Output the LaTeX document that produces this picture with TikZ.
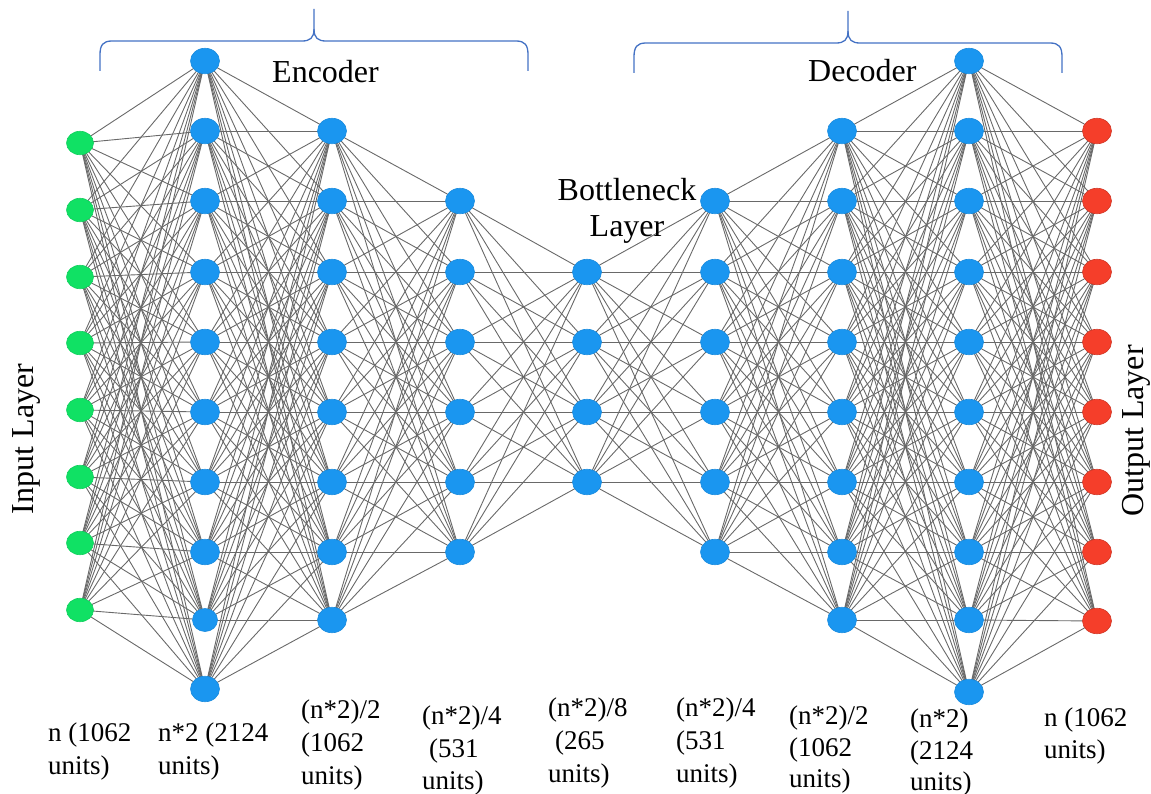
\documentclass[tikz,border=0pt]{standalone}
\usepackage{fontspec}
\setmainfont{Liberation Serif}
\usetikzlibrary{shapes.geometric}
\pgfdeclarelayer{background}
\pgfsetlayers{background,main}
\definecolor{nblue}{RGB}{26,150,240}
\definecolor{ngreen}{RGB}{16,225,100}
\definecolor{nred}{RGB}{245,62,42}
\definecolor{edgegray}{RGB}{105,105,105}
\definecolor{braceblue}{RGB}{68,114,196}
\begin{document}
\begin{tikzpicture}[x=1pt,y=-1pt,
  neuron/.style={ellipse, inner sep=0pt, minimum width=29pt, minimum height=25.5pt, fill=nblue, draw=nblue!92!black, line width=0.6pt},
  smallneuron/.style={neuron, minimum width=25pt, minimum height=23pt},
  gneuron/.style={neuron, minimum width=27pt, minimum height=23.5pt, fill=ngreen, draw=ngreen!92!black},
  rneuron/.style={neuron, fill=nred, draw=nred!85!black},
  link/.style={draw=edgegray, line width=0.9pt},
  bracepen/.style={draw=braceblue, line width=1.3pt},
  titletext/.style={font=\fontsize{32}{36}\selectfont, inner sep=0pt},
  lab/.style={font=\fontsize{27}{32}\selectfont, inner sep=0pt, anchor=base west}]
\useasboundingbox (0,0) rectangle (1151,794);

% neurons
\foreach \y [count=\i] in {143,210,277,343,410,477,543,610} \node[gneuron] (A\i) at (80,\y) {};
\foreach \y [count=\i] in {61,131,201,272,342,412,482,552} \node[neuron] (B\i) at (205,\y) {};
\node[smallneuron] (B9) at (205,620) {};
\node[neuron] (B10) at (205,689) {};
\foreach \y [count=\i] in {131,201,272,342,412,482,552,620} \node[neuron] (C\i) at (332,\y) {};
\foreach \y [count=\i] in {201,272,342,412,482,552} \node[neuron] (D\i) at (460,\y) {};
\foreach \y [count=\i] in {272,342,412,482} \node[neuron] (E\i) at (587,\y) {};
\foreach \y [count=\i] in {201,272,342,412,482,552} \node[neuron] (F\i) at (715,\y) {};
\foreach \y [count=\i] in {131,201,272,342,412,482,552,620} \node[neuron] (G\i) at (842,\y) {};
\foreach \y [count=\i] in {61,131,201,272,342,412,482,552,620,692} \node[neuron] (H\i) at (969,\y) {};
\foreach \y [count=\i] in {131,201,272,342,412,482,552,621} \node[rneuron] (K\i) at (1097,\y) {};

% connections
\begin{pgfonlayer}{background}
\foreach \P/\np/\Q/\nq in {A/8/B/10, B/10/C/8, C/8/D/6, D/6/E/4, E/4/F/6, F/6/G/8, G/8/H/10, H/10/K/8} {
  \foreach \i in {1,...,\np} {
    \foreach \j in {1,...,\nq} {
      \draw[link] (\P\i.center) -- (\Q\j.center);
    }
  }
}
\end{pgfonlayer}

% braces
\draw[bracepen] (100,71) -- (100,55) .. controls (100,45) and (103,41) .. (112,41) -- (302,41)
  .. controls (310,41) and (314,38) .. (314,29) -- (314,9);
\draw[bracepen] (314,29) .. controls (314,38) and (318,41) .. (326,41) -- (516,41)
  .. controls (525,41) and (528,45) .. (528,55) -- (528,71);
\draw[bracepen] (634,73) -- (634,57) .. controls (634,47) and (637,43) .. (646,43) -- (836,43)
  .. controls (844,43) and (848,40) .. (848,31) -- (848,11);
\draw[bracepen] (848,31) .. controls (848,40) and (852,43) .. (860,43) -- (1050,43)
  .. controls (1059,43) and (1062,47) .. (1062,57) -- (1062,73);

% titles
\node[titletext, anchor=base west] (enc) at (272,83) {Encoder};
\node[titletext, anchor=base west] (dec) at (808,82) {Decoder};
\node[titletext, anchor=base] (bn1) at (627,201) {Bottleneck};
\node[titletext, anchor=base] (bn2) at (627,237) {Layer};
\node[titletext, anchor=base, rotate=90] (inl) at (33,439) {Input Layer};
\node[titletext, anchor=base, rotate=90] (outl) at (1143,431) {Output Layer};

% unit labels
\node[lab] (n1a) at (48,741) {n (1062};
\node[lab] (n1b) at (48,774) {units)};
\node[lab] (n2a) at (158,741) {n*2 (2124};
\node[lab] (n2b) at (158,774) {units)};
\node[lab] (n3a) at (301,718) {(n*2)/2};
\node[lab] (n3b) at (301,751) {(1062};
\node[lab] (n3c) at (301,784) {units)};
\node[lab] (n4a) at (422,724) {(n*2)/4};
\node[lab] (n4b) at (429,757) {(531};
\node[lab] (n4c) at (422,789) {units)};
\node[lab] (n5a) at (548,716) {(n*2)/8};
\node[lab] (n5b) at (555,749) {(265};
\node[lab] (n5c) at (548,782) {units)};
\node[lab] (n6a) at (676,716) {(n*2)/4};
\node[lab] (n6b) at (676,749) {(531};
\node[lab] (n6c) at (676,782) {units)};
\node[lab] (n7a) at (789,724) {(n*2)/2};
\node[lab] (n7b) at (789,756) {(1062};
\node[lab] (n7c) at (789,787) {units)};
\node[lab] (n8a) at (910,727) {(n*2)};
\node[lab] (n8b) at (910,759) {(2124};
\node[lab] (n8c) at (910,790) {units)};
\node[lab] (n9a) at (1044,726) {n (1062};
\node[lab] (n9b) at (1044,758) {units)};
\end{tikzpicture}
\end{document}
